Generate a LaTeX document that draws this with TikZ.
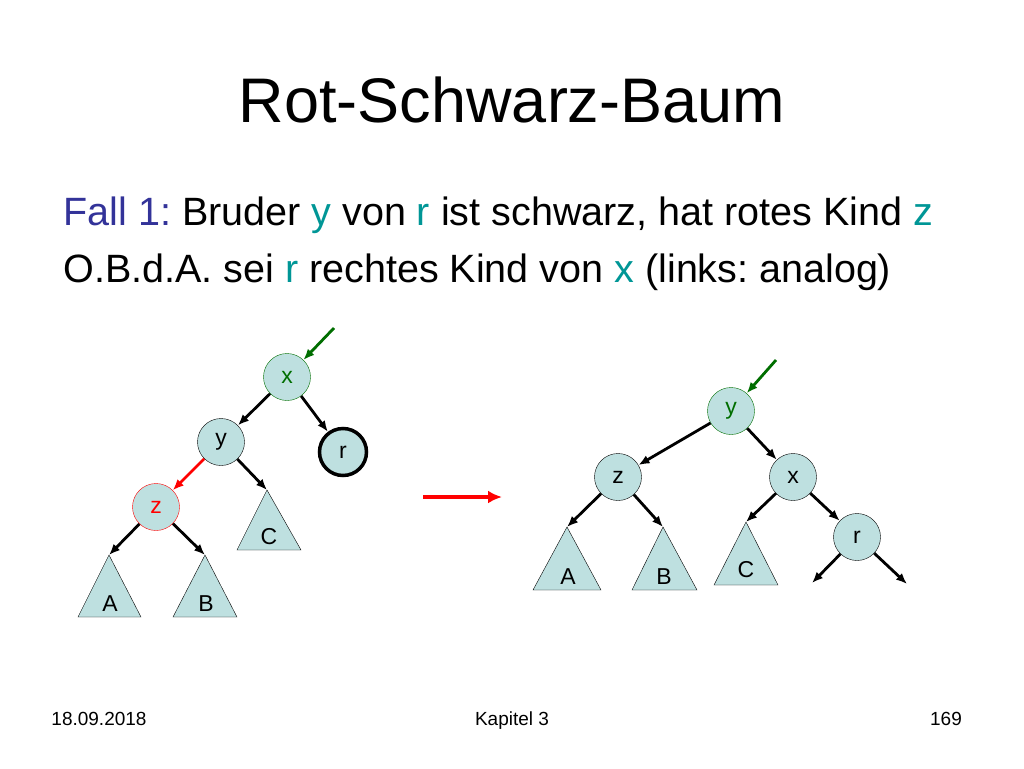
\documentclass[tikz,border=0pt]{standalone}
\usepackage{fontspec}
\setmainfont{Liberation Sans}
\usetikzlibrary{arrows.meta}
\definecolor{nfill}{RGB}{190,224,224}
\definecolor{teal1}{RGB}{0,150,150}
\definecolor{blue1}{RGB}{51,51,153}
\definecolor{green1}{RGB}{0,110,0}
\begin{document}
\frenchspacing
\begin{tikzpicture}[x=1pt,y=-1pt,
  nd/.style={circle,draw,fill=nfill,minimum size=47pt,inner sep=0pt,font=\fontsize{23}{23}\selectfont},
  ed/.style={-{Latex[length=11pt,width=9pt]},line width=2.8pt},
  gr/.style={-{Latex[length=11pt,width=9pt]},line width=2.8pt,green1},
  tri/.style={draw,fill=nfill},
  tl/.style={font=\fontsize{23}{23}\selectfont},
  ft/.style={font=\fontsize{19}{19}\selectfont,anchor=base}]
\useasboundingbox (0,0) rectangle (1024,768);
\node at (512,100) {\fontsize{63}{66}\selectfont Rot-Schwarz-Baum};
\node[anchor=base west] at (60,225) {\fontsize{39.5}{44}\selectfont\textcolor{blue1}{Fall 1:} Bruder \textcolor{teal1}{y} von \textcolor{teal1}{r} ist schwarz, hat rotes Kind \textcolor{teal1}{z}};
\node[anchor=base west] at (60,282) {\fontsize{39.5}{44}\selectfont O.B.d.A. sei \textcolor{teal1}{r} rechtes Kind von \textcolor{teal1}{x} (links: analog)};
\node[ft] at (99,725) {18.09.2018};
\node[ft] at (512,725) {Kapitel 3};
\node[ft] at (946,725) {169};
% left tree
\node[nd,draw=green1,text=green1] (x) at (287,377) {x};
\node[nd] (y) at (221,442) {y};
\node[nd,line width=3.5pt] (r) at (343,452) {r};
\node[nd,draw=red,text=red] (z) at (156,507) {z};
\coordinate (Ca) at (267,490); \coordinate (Aa) at (109,555); \coordinate (Ba) at (205,555);
\draw[tri] (Ca) -- (301,550) -- (237,550) -- cycle; \node[tl] at (269,537) {C};
\draw[tri] (Aa) -- (141,617) -- (78,617) -- cycle; \node[tl] at (110,604) {A};
\draw[tri] (Ba) -- (237,617) -- (173,617) -- cycle; \node[tl] at (206,604) {B};
\coordinate (g1) at (334,328);
\draw[gr] (g1) -- (x);
\draw[ed] (x) -- (y); \draw[ed] (x) -- (r);
\draw[ed,red] (y) -- (z); \draw[ed] (y) -- (Ca);
\draw[ed] (z) -- (Aa); \draw[ed] (z) -- (Ba);
% arrow
\coordinate (m1) at (423,497); \coordinate (m2) at (502,497);
\draw[-{Latex[length=14pt,width=13pt]},line width=4pt,red] (m1) -- (m2);
% right tree
\node[nd,draw=green1,text=green1] (y2) at (731,411) {y};
\node[nd] (z2) at (618,477) {z};
\node[nd] (x2) at (793,477) {x};
\node[nd] (r2) at (857,537) {r};
\coordinate (A2) at (567,527); \coordinate (B2) at (663,527); \coordinate (C2) at (746,522);
\draw[tri] (A2) -- (601,590) -- (533,590) -- cycle; \node[tl] at (568,577) {A};
\draw[tri] (B2) -- (697,590) -- (632,590) -- cycle; \node[tl] at (664,577) {B};
\draw[tri] (C2) -- (778,585) -- (714,585) -- cycle; \node[tl] at (746,570) {C};
\coordinate (g2) at (776,360); \coordinate (e1) at (812,583); \coordinate (e2) at (907,584);
\draw[gr] (g2) -- (y2);
\draw[ed] (y2) -- (z2); \draw[ed] (y2) -- (x2);
\draw[ed] (z2) -- (A2); \draw[ed] (z2) -- (B2);
\draw[ed] (x2) -- (C2); \draw[ed] (x2) -- (r2);
\draw[ed] (r2) -- (e1); \draw[ed] (r2) -- (e2);
\end{tikzpicture}
\end{document}
